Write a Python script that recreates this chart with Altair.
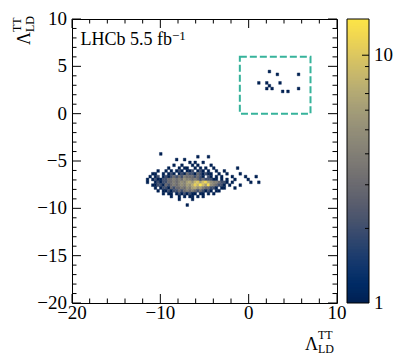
import altair as alt
import pandas as pd

# ---------------- data ----------------
BIN = 0.3          # bin width in both axes
ORIGIN = -20.0     # lower edge of bin 0
COL0 = 27          # bin column of the first character of each row string
ROW0 = 52          # bin row of the first string (top row of the cluster)

# counts per bin, one string per bin row (top to bottom), '.' = empty, hex digits = counts
rows = [
    "......1",
    "....................1...1",
    "............1..1",
    ".................1.1..1",
    "...........1..1...1.1....1",
    ".........1...1.11..1.1.1..1........1",
    ".....1..1.1.121.112.121.1..1..1",
    "...11..1.121.1213221321211..1..1....1",
    "..1.12.1212323243332321.21.1.1...1....1...1",
    ".1.1211223343435443432322211.1.1..1....1",
    ".1..1212233434546758a69c75443221.1......1..1",
    "...1122132343454657b8e96d543221.1...1",
    "....1.1221323343546756433221.11...1",
    ".....1.1121223234343232121.11",
    ".......1.11.12121211.11.1.1",
    "..........1..1.1.11.1.1",
    ".............1....1",
    "",
    "................1",
]

# sparse entries inside the dashed box
box_pts_x = [2.42, 3.37, 5.63, 1.29, 2.16, 1.97, 2.42, 2.61, 3.56, 3.82, 4.31, 5.63]
box_pts_y = [4.52, 4.03, 4.03, 3.14, 3.32, 2.79, 2.97, 2.61, 3.14, 2.23, 2.23, 2.61]
box_pts_n = [1, 1, 1, 1, 1, 1, 1, 1, 1, 1, 1, 1]

box_x = [-1, 7]
box_y = [0, 6]

x_major = [-20, -10, 0, 10]
x_minor = [-18, -16, -14, -12, -8, -6, -4, -2, 2, 4, 6, 8]
y_major = [-20, -15, -10, -5, 0, 5, 10]
y_minor = [-19, -18, -17, -16, -14, -13, -12, -11, -9, -8, -7, -6,
           -4, -3, -2, -1, 1, 2, 3, 4, 6, 7, 8, 9]
cb_labels = [1, 10]
cb_major = [10]
cb_minor = [2, 3, 4, 5, 6, 7, 8, 9]
c_domain = [1, 14]

# ---------------- tables ----------------
cells = {}
for r, s in enumerate(rows):
    j = ROW0 - r
    for k, ch in enumerate(s):
        if ch != ".":
            key = (COL0 + k, j)
            cells[key] = cells.get(key, 0) + int(ch, 16)
for x, y, n in zip(box_pts_x, box_pts_y, box_pts_n):
    key = (int((x - ORIGIN) // BIN), int((y - ORIGIN) // BIN))
    cells[key] = cells.get(key, 0) + n

df = pd.DataFrame([
    {"x0": ORIGIN + BIN * i, "x1": ORIGIN + BIN * (i + 1),
     "y0": ORIGIN + BIN * j, "y1": ORIGIN + BIN * (j + 1), "n": n}
    for (i, j), n in cells.items()
])


def fmt(v):
    return str(v).replace("-", "\u2212")


# ---------------- chart ----------------
W, H = 265, 284
FONT = "Liberation Serif"
xs = alt.Scale(domain=[-20, 10], nice=False, zero=False)
ys = alt.Scale(domain=[-20, 10], nice=False, zero=False)
cs = alt.Scale(type="log", domain=c_domain, scheme="cividis")

heat = alt.Chart(df).mark_rect(strokeWidth=0.4).encode(
    x=alt.X("x0:Q", scale=xs, axis=None),
    x2="x1",
    y=alt.Y("y0:Q", scale=ys, axis=None),
    y2="y1",
    color=alt.Color("n:Q", scale=cs, legend=None),
    stroke=alt.Stroke("n:Q", scale=cs, legend=None),
)

box = alt.Chart(pd.DataFrame({"x0": [box_x[0]], "x1": [box_x[1]],
                              "y0": [box_y[0]], "y1": [box_y[1]]})).mark_rect(
    fillOpacity=0, stroke="#36b39b", strokeWidth=2, strokeDash=[7, 3]
).encode(
    x=alt.X("x0:Q", scale=xs, axis=None), x2="x1",
    y=alt.Y("y0:Q", scale=ys, axis=None), y2="y1",
)


def xticks(vals, a, b):
    return alt.Chart(pd.DataFrame({"v": vals})).mark_rule(color="black", strokeWidth=1).encode(
        x=alt.X("v:Q", scale=xs, axis=None), y=alt.value(a), y2=alt.value(b))


def yticks(vals, a, b):
    return alt.Chart(pd.DataFrame({"v": vals})).mark_rule(color="black", strokeWidth=1).encode(
        y=alt.Y("v:Q", scale=ys, axis=None), x=alt.value(a), x2=alt.value(b))


MAJ, MIN = 9, 4.5
ticks = [
    xticks(x_major, H, H - MAJ), xticks(x_minor, H, H - MIN),
    xticks(x_major, 0, MAJ), xticks(x_minor, 0, MIN),
    yticks(y_major, 0, MAJ), yticks(y_minor, 0, MIN),
    yticks(y_major, W, W - MAJ), yticks(y_minor, W, W - MIN),
]

# tick labels
xlab = alt.Chart(pd.DataFrame({"v": x_major, "t": [fmt(v) for v in x_major]})).mark_text(
    font=FONT, fontSize=19, color="black", align="center", baseline="top"
).encode(x=alt.X("v:Q", scale=xs, axis=None), y=alt.value(H + 1), text="t:N")
ylab = alt.Chart(pd.DataFrame({"v": y_major, "t": [fmt(v) for v in y_major]})).mark_text(
    font=FONT, fontSize=19, color="black", align="right", baseline="middle"
).encode(y=alt.Y("v:Q", scale=ys, axis=None), x=alt.value(-5), text="t:N")

# colour bar: counts mapped onto the bar height (log scale)
CB0, CB1 = W + 10, W + 32
cb_pos = f"-20 + 30*log(datum.v/{c_domain[0]})/log({c_domain[1]}/{c_domain[0]})"
STEP = 0.005
cbar = alt.Chart(alt.sequence(0, 1, STEP, as_="t")).transform_calculate(
    v=f"{c_domain[0]}*pow({c_domain[1]}/{c_domain[0]}, datum.t)",
    ya="-20 + 30*datum.t",
    yb=f"-20 + 30*min(1, datum.t + {2 * STEP})",
).mark_rect().encode(
    y=alt.Y("ya:Q", scale=ys, axis=None), y2="yb",
    x=alt.value(CB0), x2=alt.value(CB1),
    color=alt.Color("v:Q", scale=cs, legend=None),
)
cbframe = alt.Chart(pd.DataFrame({"v": [c_domain[0]], "w": [c_domain[1]]})).transform_calculate(
    ya=cb_pos, yb=cb_pos.replace("datum.v", "datum.w")
).mark_rect(fillOpacity=0, stroke="black", strokeWidth=1).encode(
    y=alt.Y("ya:Q", scale=ys, axis=None), y2="yb",
    x=alt.value(CB0), x2=alt.value(CB1),
)


def cbticks(vals, length):
    return alt.Chart(pd.DataFrame({"v": vals})).transform_calculate(yy=cb_pos).mark_rule(
        color="black", strokeWidth=1).encode(
        y=alt.Y("yy:Q", scale=ys, axis=None),
        x=alt.value(CB1 - length), x2=alt.value(CB1))


cblab = alt.Chart(pd.DataFrame({"v": cb_labels, "t": [str(v) for v in cb_labels]})).transform_calculate(
    yy=cb_pos).mark_text(font=FONT, fontSize=19, color="black", align="left", baseline="middle").encode(
    y=alt.Y("yy:Q", scale=ys, axis=None), x=alt.value(CB1 + 5), text="t:N")


def label(t, x, y, size, angle=0):
    return alt.Chart(pd.DataFrame({"t": [t]})).mark_text(
        font=FONT, fontSize=size, color="black", align="left",
        baseline="alphabetic", angle=angle
    ).encode(x=alt.value(x), y=alt.value(y), text="t:N")


texts = [
    label("LHCb 5.5 fb", 8.5, 26, 18),
    label("\u22121", 100, 21, 13),
    # x title
    label("\u039b", 233, 331, 18),
    label("TT", 246, 320, 12),
    label("LD", 246, 333.5, 12),
    # y title (rotated)
    label("\u039b", -42, 26, 18, 270),
    label("TT", -51, 13, 12, 270),
    label("LD", -38.5, 13, 12, 270),
]

chart = alt.layer(
    heat, box, *ticks, xlab, ylab, cbar, cbframe,
    cbticks(cb_major, 7), cbticks(cb_minor, 4), cblab, *texts
).properties(
    width=W, height=H,
    padding={"left": 64, "top": 11, "right": 60, "bottom": 52},
    autosize=alt.AutoSizeParams(type="none"),
).configure_view(stroke="black", strokeWidth=1)

chart.save("out.html", embed_options={"renderer": "svg", "actions": False})
